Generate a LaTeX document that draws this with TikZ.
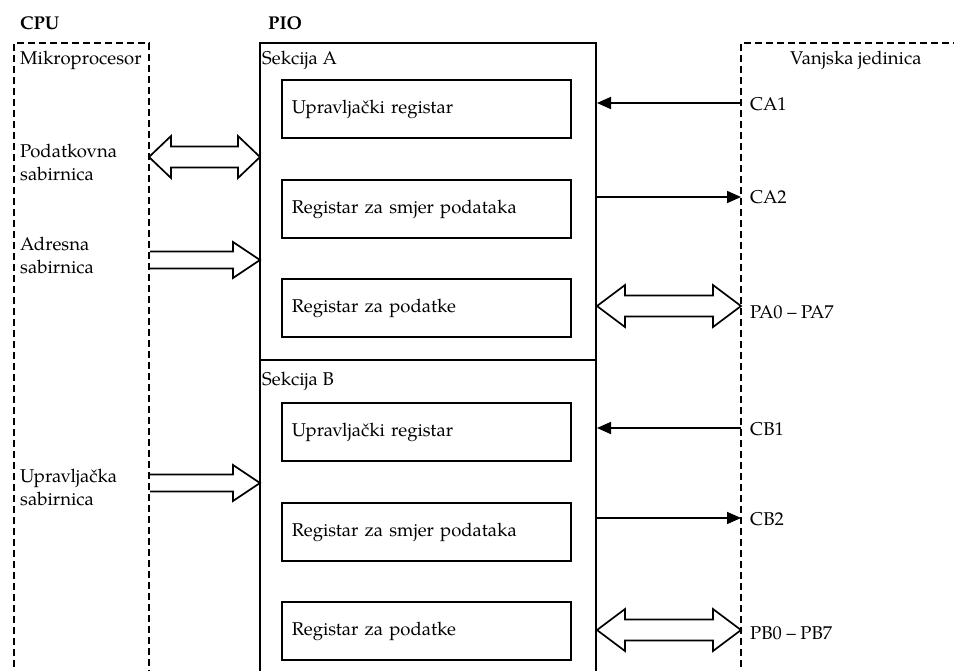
\documentclass[tikz,border=0pt]{standalone}
\usepackage{fontspec}
\setmainfont{texgyrepagella}[Extension=.otf, UprightFont=*-regular, BoldFont=*-bold]
\usetikzlibrary{arrows.meta,calc}

\tikzset{
  lbl/.style={inner sep=0pt, anchor=base west, font=\fontsize{18.5}{22}\selectfont},
  hdr/.style={inner sep=0pt, anchor=base west, font=\fontsize{18.5}{22}\selectfont\bfseries},
  frame/.style={draw, line width=1.8pt},
  dframe/.style={draw, line width=1.7pt, dash pattern=on 7pt off 4pt},
  regbox/.style={draw, line width=1.8pt, minimum width=289pt, minimum height=58pt,
    anchor=north west, inner xsep=10pt, text width=269pt, align=left,
    font=\fontsize{18.5}{22}\selectfont},
  sig/.style={line width=1.7pt, -{Triangle[length=14pt,width=12pt]}},
  bus/.style={draw, line width=1.7pt, line join=miter, fill=white},
}

\begin{document}
\begin{tikzpicture}[x=1pt, y=-1pt]
  \useasboundingbox (0,0) rectangle (954,670);
  \clip (0,0) rectangle (954,670);

  % headings
  \node[hdr] (hcpu) at (20,29) {CPU};
  \node[hdr] (hpio) at (268,29) {PIO};

  % outer frames (they run on below the bottom edge)
  \draw[dframe] (14,700) -- (14,43) -- (149,43) -- (149,700);
  \draw[frame] (260,700) -- (260,43) -- (596,43) -- (596,700);
  \draw[frame] (260,360) -- (596,360);
  \draw[dframe] (741,700) -- (741,43) -- (960,43);

  \coordinate (cpuE) at (149,0);
  \coordinate (pioW) at (260,0);
  \coordinate (pioE) at (597,0);
  \coordinate (extW) at (741,0);

  % CPU side labels
  \node[lbl] (mp) at (20,64) {Mikroprocesor};
  \node[lbl] (pd1) at (20,157) {Podatkovna};
  \node[lbl] (pd2) at (20,180) {sabirnica};
  \node[lbl] (ad1) at (20,250) {Adresna};
  \node[lbl] (ad2) at (20,273) {sabirnica};
  \node[lbl] (up1) at (20,482) {Upravljačka};
  \node[lbl] (up2) at (20,505) {sabirnica};

  % PIO sections
  \node[lbl] (sa) at (262,64) {Sekcija A};
  \node[lbl] (sb) at (262,385) {Sekcija B};
  \node[regbox] (ra1) at (281,79)  {Upravljački registar};
  \node[regbox] (ra2) at (281,179) {Registar za smjer podataka};
  \node[regbox] (ra3) at (281,278) {Registar za podatke};
  \node[regbox] (rb1) at (281,402) {Upravljački registar};
  \node[regbox] (rb2) at (281,502) {Registar za smjer podataka};
  \node[regbox] (rb3) at (281,601) {Registar za podatke};

  % external unit
  \node[lbl] (vj) at (790,64) {Vanjska jedinica};
  \coordinate (ca1) at (741,103);
  \coordinate (ca2) at (741,197);
  \coordinate (pa)  at (741,306);
  \coordinate (cb1) at (741,428);
  \coordinate (cb2) at (741,518);
  \coordinate (pb)  at (741,630);
  \node[lbl] (lca1) at (750,110) {CA1};
  \node[lbl] (lca2) at (750,203) {CA2};
  \node[lbl] (lpa)  at (750,318) {PA0 – PA7};
  \node[lbl] (lcb1) at (750,435) {CB1};
  \node[lbl] (lcb2) at (750,525) {CB2};
  \node[lbl] (lpb)  at (750,639) {PB0 – PB7};

  % control lines
  \draw[sig] (ca1) -- (pioE |- ca1);
  \draw[sig] (pioE |- ca2) -- (ca2);
  \draw[sig] (cb1) -- (pioE |- cb1);
  \draw[sig] (pioE |- cb2) -- (cb2);

  % data bus (two-way)
  \coordinate (dL) at (cpuE |- 0,157);
  \coordinate (dR) at (pioW |- 0,157);
  \draw[bus] (dL) -- ++(22,-21) -- ++(0,10.5) -- ($(dR)+(-22,-10.5)$) -- ++(0,-10.5)
    -- (dR) -- ++(-22,21) -- ++(0,-10.5) -- ($(dL)+(22,10.5)$) -- ++(0,10.5) -- cycle;

  % port A and port B buses
  \draw[bus] (pioE |- pa) -- ++(28,-21) -- ++(0,10.5) -- ($(pa)+(-28,-10.5)$) -- ++(0,-10.5)
    -- (pa) -- ++(-28,21) -- ++(0,-10.5) -- ($(pioE |- pa)+(28,10.5)$) -- ++(0,10.5) -- cycle;
  \draw[bus] (pioE |- pb) -- ++(28,-21) -- ++(0,10.5) -- ($(pb)+(-28,-10.5)$) -- ++(0,-10.5)
    -- (pb) -- ++(-28,21) -- ++(0,-10.5) -- ($(pioE |- pb)+(28,10.5)$) -- ++(0,10.5) -- cycle;

  % address and control buses (one-way)
  \coordinate (aR) at (pioW |- 0,260);
  \coordinate (uR) at (pioW |- 0,483);
  \draw[bus, fill=none] ($(cpuE |- aR)+(1,-8.5)$) -- ($(aR)+(-27,-8.5)$) -- ++(0,-9.5)
    -- (aR) -- ++(-27,18) -- ++(0,-9.5) -- ($(cpuE |- aR)+(1,8.5)$);
  \draw[bus, fill=none] ($(cpuE |- uR)+(1,-8.5)$) -- ($(uR)+(-27,-8.5)$) -- ++(0,-9.5)
    -- (uR) -- ++(-27,18) -- ++(0,-9.5) -- ($(cpuE |- uR)+(1,8.5)$);
\end{tikzpicture}
\end{document}
